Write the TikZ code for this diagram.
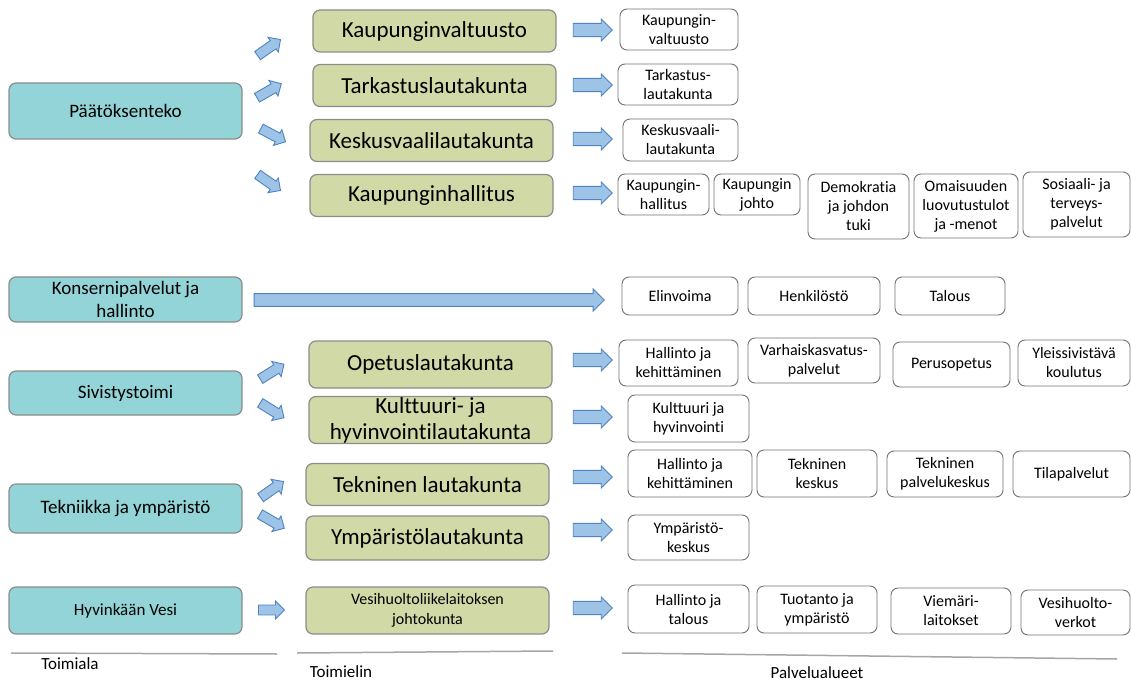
\documentclass[tikz,border=0pt]{standalone}
\usepackage{fontspec}
\setmainfont{Carlito}[Ligatures=NoCommon]
\usetikzlibrary{shapes.arrows}

\definecolor{tealbox}{HTML}{93D4D8}
\definecolor{greenbox}{HTML}{D1D9A7}
\definecolor{arrfill}{HTML}{9DC3E6}
\definecolor{arrline}{HTML}{5083C0}
\definecolor{boxline}{HTML}{8C8C8C}

\begin{document}
\begin{tikzpicture}[x=1pt, y=-1pt,
  area/.style={rectangle, rounded corners=7pt, draw=boxline, line width=1.2pt, fill=tealbox, minimum width=233pt, inner sep=0pt, align=center, font=\fontsize{19}{23}\selectfont},
  board/.style={rectangle, rounded corners=7pt, draw=boxline, line width=1.2pt, fill=greenbox, minimum width=243pt, inner sep=0pt, align=center, font=\fontsize{23}{26}\selectfont},
  unit/.style={rectangle, rounded corners=7pt, draw=black!55, line width=0.9pt, fill=white, inner sep=0pt, align=center, font=\fontsize{16}{19}\selectfont},
  barrow/.style={single arrow, draw=arrline, line width=0.9pt, fill=arrfill, inner xsep=0pt, inner ysep=4.5pt, single arrow head extend=4pt, minimum width=18pt, minimum height=28pt},
  rarrow/.style={barrow, inner ysep=5.5pt, minimum width=22pt, minimum height=39pt},
  caption/.style={font=\fontsize{17}{20}\selectfont}]
\useasboundingbox (0,0) rectangle (1131,684);

% toimialat
\node[area, minimum height=56pt] (pt) at (125.5,111) {Päätöksenteko};
\node[area, minimum height=45pt] (kons) at (125.5,299.5) {Konsernipalvelut ja\\hallinto};
\node[area, minimum height=44pt] (siv) at (125.5,393) {Sivistystoimi};
\node[area, minimum height=49pt] (tek) at (125.5,508.5) {Tekniikka ja ympäristö};
\node[area, minimum height=47pt, font=\fontsize{17}{20}\selectfont] (hv) at (125.5,610.5) {Hyvinkään Vesi};

% toimielimet
\node[board, minimum height=42pt] (kv) at (434.5,31) {Kaupunginvaltuusto};
\node[board, minimum height=42pt] (tlk) at (434.5,85.5) {Tarkastuslautakunta};
\node[board, minimum height=42pt] (kvl) at (431.5,140.5) {Keskusvaalilautakunta};
\node[board, minimum height=42pt] (kh) at (431.5,195.5) {Kaupunginhallitus};
\node[board, minimum height=47pt] (opl) at (430.5,364.5) {Opetuslautakunta};
\node[board, minimum height=47pt] (khl) at (430.5,420) {Kulttuuri- ja\\hyvinvointilautakunta};
\node[board, minimum height=42pt] (tkl) at (427.5,484.5) {Tekninen lautakunta};
\node[board, minimum height=44pt] (yml) at (427.5,538) {Ympäristölautakunta};
\node[board, minimum height=47pt, font=\fontsize{16}{20}\selectfont] (vhl) at (427.5,610.5) {Vesihuoltoliikelaitoksen\\johtokunta};

% nuolet toimialoilta
\node[barrow, rotate=35] (a1) at (267,49) {};
\node[barrow, rotate=30] (a2) at (267,92) {};
\node[barrow, rotate=-28] (a3) at (271,134) {};
\node[barrow, rotate=-35] (a4) at (267,181) {};
\node[barrow, rotate=32] (a5) at (270,373) {};
\node[barrow, rotate=-32] (a6) at (270,409) {};
\node[barrow, rotate=35] (a7) at (270,491) {};
\node[barrow, rotate=-30] (a8) at (270,520) {};
\node[barrow, minimum height=26pt, minimum width=18pt] (a9) at (269,610) {};
\node[barrow, inner ysep=5pt, minimum width=22pt, minimum height=350pt] (a10) at (426,300) {};

% nuolet palvelualueille
\node[rarrow] (b1) at (589.5,30) {};
\node[rarrow] (b2) at (589.5,85) {};
\node[rarrow] (b3) at (589.5,139) {};
\node[rarrow] (b4) at (589.5,193) {};
\node[rarrow] (b5) at (589.5,360) {};
\node[rarrow] (b6) at (589.5,417) {};
\node[rarrow] (b7) at (589.5,477) {};
\node[rarrow] (b8) at (589.5,530) {};
\node[rarrow] (b9) at (589.5,608) {};

% palvelualueet
\node[unit, minimum width=118pt, minimum height=41pt] (kvu) at (679,29.5) {Kaupungin-\\valtuusto};
\node[unit, minimum width=120pt, minimum height=41pt] (tlu) at (678,84.5) {Tarkastus-\\lautakunta};
\node[unit, minimum width=115pt, minimum height=42pt] (kvlu) at (680.5,140) {Keskusvaali-\\lautakunta};
\node[unit, minimum width=91pt, minimum height=41pt] (khu) at (663.5,194.5) {Kaupungin-\\hallitus};
\node[unit, minimum width=86pt, minimum height=41pt] (kju) at (757,194.5) {Kaupungin\\johto};
\node[unit, minimum width=101pt, minimum height=65pt] (dem) at (858.5,206.5) {Demokratia\\ja johdon\\tuki};
\node[unit, minimum width=104pt, minimum height=64pt] (oma) at (966,206) {Omaisuuden\\luovutustulot\\ja -menot};
\node[unit, minimum width=107pt, minimum height=65pt] (sos) at (1076.5,204.5) {Sosiaali- ja\\terveys-\\palvelut};

\node[unit, minimum width=116pt, minimum height=38pt] (eli) at (680,296) {Elinvoima};
\node[unit, minimum width=132pt, minimum height=38pt] (hen) at (814,296) {Henkilöstö};
\node[unit, minimum width=110pt, minimum height=38pt] (tal) at (950,296) {Talous};

\node[unit, minimum width=119pt, minimum height=46pt] (hk1) at (678.5,363) {Hallinto ja\\kehittäminen};
\node[unit, minimum width=132pt, minimum height=45pt] (var) at (814,360.5) {Varhaiskasvatus-\\palvelut};
\node[unit, minimum width=117pt, minimum height=45pt] (per) at (951.5,364.5) {Perusopetus};
\node[unit, minimum width=112pt, minimum height=46pt] (yle) at (1074,363) {Yleissivistävä\\koulutus};
\node[unit, minimum width=121pt, minimum height=47pt] (khv) at (688.5,418.5) {Kulttuuri ja\\hyvinvointi};

\node[unit, minimum width=124pt, minimum height=47pt] (hk2) at (690,473.5) {Hallinto ja\\kehittäminen};
\node[unit, minimum width=120pt, minimum height=47pt] (tkk) at (817,473.5) {Tekninen\\keskus};
\node[unit, minimum width=116pt, minimum height=46pt] (tpk) at (945,474) {Tekninen\\palvelukeskus};
\node[unit, minimum width=117pt, minimum height=46pt] (tila) at (1071.5,474) {Tilapalvelut};
\node[unit, minimum width=121pt, minimum height=45pt] (ymk) at (688.5,537.5) {Ympäristö-\\keskus};

\node[unit, minimum width=121pt, minimum height=48pt] (ht) at (688.5,609) {Hallinto ja\\talous};
\node[unit, minimum width=120pt, minimum height=47pt] (ty) at (817,609.5) {Tuotanto ja\\ympäristö};
\node[unit, minimum width=120pt, minimum height=46pt] (vie) at (951,611) {Viemäri-\\laitokset};
\node[unit, minimum width=109pt, minimum height=45pt] (vhv) at (1075.5,612.5) {Vesihuolto-\\verkot};

% sarakkeiden otsikot
\draw[line width=1.5pt, black!35] (11,653) -- (277,654);
\draw[line width=1.5pt, black!35] (297,653) -- (553,651);
\draw[line width=1.5pt, black!35] (622,653) -- (1117,659);
\node[caption] (c1) at (70,664) {Toimiala};
\node[caption] (c2) at (341,672) {Toimielin};
\node[caption] (c3) at (817,673) {Palvelualueet};
\end{tikzpicture}
\end{document}
